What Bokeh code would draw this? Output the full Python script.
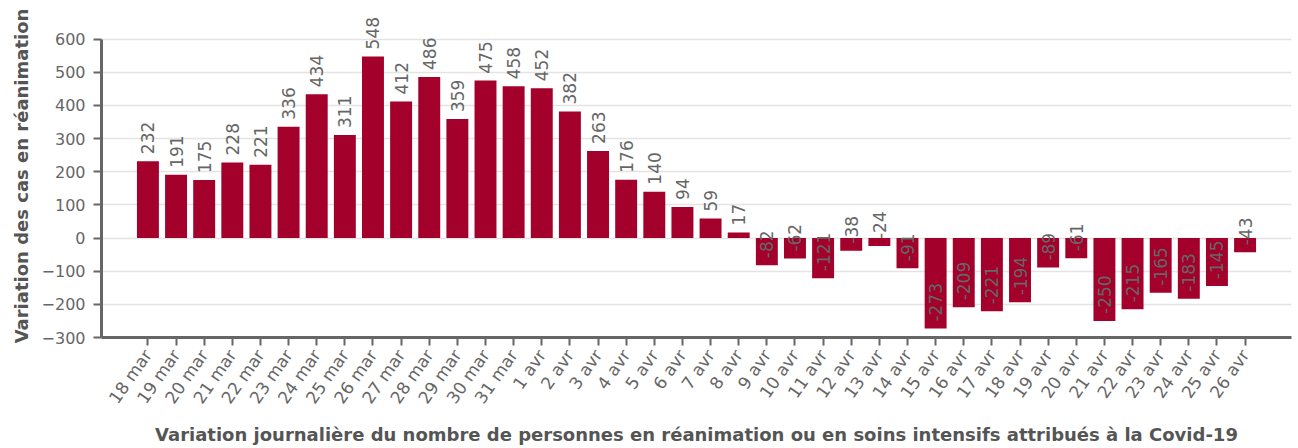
import math
from bokeh.plotting import figure
from bokeh.models import FactorRange, Range1d, ColumnDataSource, SingleIntervalTicker, LabelSet
from bokeh.core.properties import value
from bokeh.embed import file_html
from bokeh.resources import INLINE

dates = ["18 mar", "19 mar", "20 mar", "21 mar", "22 mar", "23 mar", "24 mar", "25 mar",
         "26 mar", "27 mar", "28 mar", "29 mar", "30 mar", "31 mar",
         "1 avr", "2 avr", "3 avr", "4 avr", "5 avr", "6 avr", "7 avr", "8 avr", "9 avr",
         "10 avr", "11 avr", "12 avr", "13 avr", "14 avr", "15 avr", "16 avr", "17 avr",
         "18 avr", "19 avr", "20 avr", "21 avr", "22 avr", "23 avr", "24 avr", "25 avr", "26 avr"]
variation = [232, 191, 175, 228, 221, 336, 434, 311, 548, 412, 486, 359, 475, 458,
             452, 382, 263, 176, 140, 94, 59, 17, -82, -62, -121, -38, -24, -91,
             -273, -209, -221, -194, -89, -61, -250, -215, -165, -183, -145, -43]

y_title = "Variation des cas en réanimation"
x_title = "Variation journalière du nombre de personnes en réanimation ou en soins intensifs attribués à la Covid-19"
y_axis_min, y_axis_max = -300, 600

source = ColumnDataSource(dict(date=dates, value=variation, label=[str(v) for v in variation]))

p = figure(width=1298, height=448, output_backend="svg", toolbar_location=None,
           x_range=FactorRange(factors=dates, range_padding=1.15, range_padding_units="absolute"),
           y_range=Range1d(y_axis_min, 674.5),
           min_border_left=101, min_border_right=7, min_border_top=14, min_border_bottom=111)
p.outline_line_color = None
p.background_fill_color = "white"

p.vbar(x="date", top="value", bottom=0, width=0.78, source=source,
       fill_color="#a3002b", line_color=None)

labels = LabelSet(x="date", y="value", text="label", source=source, angle=math.pi / 2,
                  text_align="left", text_baseline="middle", y_offset=7,
                  text_font=value("DejaVu Sans"), text_font_size="17px", text_color="#666666")
p.add_layout(labels)

p.yaxis.ticker = SingleIntervalTicker(interval=100, num_minor_ticks=0)
p.yaxis.bounds = (y_axis_min, y_axis_max)
p.xgrid.grid_line_color = None
p.ygrid.grid_line_color = "#e4e4e4"
p.ygrid.grid_line_width = 1.5
p.ygrid.bounds = (y_axis_min, y_axis_max)

for ax in (p.xaxis, p.yaxis):
    ax.axis_line_color = "#666666"
    ax.axis_line_width = 3
    ax.major_tick_line_color = "#666666"
    ax.major_tick_line_width = 2
    ax.major_tick_out = 8
    ax.major_tick_in = 0
    ax.minor_tick_line_color = None
    ax.major_label_text_font = "DejaVu Sans"
    ax.major_label_text_color = "#666666"
    ax.axis_label_text_font = "DejaVu Sans"
    ax.axis_label_text_font_style = "bold"
    ax.axis_label_text_color = "#555555"
    ax.axis_label_text_font_size = "18px"

p.yaxis.axis_label = y_title
p.yaxis.major_label_text_font_size = "16px"
p.yaxis.major_label_standoff = 8
p.yaxis.axis_label_standoff = 7

p.xaxis.axis_label = x_title
p.xaxis.major_label_text_font_size = "17px"
p.xaxis.major_label_orientation = 0.96
p.xaxis.major_label_standoff = 6
p.xaxis.axis_label_standoff = 8

open("out.html", "w").write(file_html(p, INLINE))
